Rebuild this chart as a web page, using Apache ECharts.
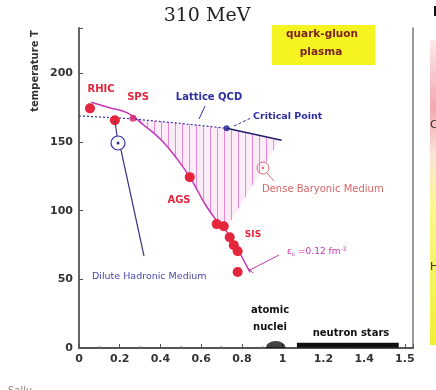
<!DOCTYPE html>
<html>
<head>
<meta charset="utf-8">
<script src="https://cdn.jsdelivr.net/npm/echarts@6/dist/echarts.min.js"></script>
<style>
  html, body { margin: 0; padding: 0; background: #fff; }
  #main { width: 436px; height: 390px; }
</style>
</head>
<body>
<div id="main"></div>
<script>
// tick labels as printed on the figure
const xTicks = ['0', '0.2', '0.4', '0.6', '0.8', '1', '1.2', '1.4', '1.5'];
const yTicks = ['0', '50', '100', '150', '200'];

// chemical freeze-out points (mu_B in GeV, T in MeV)
const expX = [0.054, 0.176, 0.544, 0.676, 0.711, 0.740, 0.760, 0.779, 0.779];
const expT = [174.5, 165.8, 124.4, 90.2, 88.7, 80.7, 74.9, 70.5, 55.3];
const spsX = [0.265];
const spsT = [167.3];

// freeze-out curve
const curveX = [0.06, 0.15, 0.24, 0.32, 0.40, 0.48, 0.55, 0.62, 0.68, 0.74, 0.79, 0.84];
const curveT = [179, 175, 171, 162, 152, 138, 123, 104.5, 92, 82, 69, 55];

// lattice QCD crossover (dotted) and first-order line past critical point
const latticeX = [0, 0.25, 0.5, 0.725];
const latticeT = [169, 167, 163.5, 160];
const critLineX = [0.725, 0.995];
const critLineT = [160, 151.3];
const critPointX = [0.725];
const critPointT = [160];

// hatched mixed-phase region (closed outline)
const regionX = [0.27, 0.5, 0.725, 0.985, 0.72, 0.68, 0.62, 0.55, 0.48, 0.40, 0.32, 0.27];
const regionT = [167, 163.5, 160, 151.5, 86, 92, 104.5, 123, 138, 152, 162, 167];

// atomic nuclei and neutron stars at T ~ 0
const nucleiX = [0.966];
const nucleiT = [2.6];
const starsX = [1.07, 1.57];
const starsT = [2, 2];

const chart = echarts.init(document.getElementById('main'));

// vertical hatch pattern
const hatch = document.createElement('canvas');
hatch.width = 7;
hatch.height = 4;
const hctx = hatch.getContext('2d');
hctx.fillStyle = '#fcecf8';
hctx.fillRect(0, 0, 7, 4);
hctx.fillStyle = '#e38ad9';
hctx.fillRect(0, 0, 1, 4);

const pair = (xs, ys) => xs.map((x, i) => [x, ys[i]]);
const FONT = 'DejaVu Sans';
const RED = '#e5253c';
const BLUE = '#2f2fa3';
const MAG = '#c236b4';

const txt = (text, x, y, size, color, opts = {}) => ({
  type: 'text', x, y, z: 100,
  rotation: opts.rotation || 0,
  style: {
    text, fill: color,
    font: `${opts.bold ? 'bold ' : ''}${size}px "${opts.family || FONT}"`,
    align: opts.align || 'center', verticalAlign: 'middle'
  }
});
const seg = (x1, y1, x2, y2, color, w = 1, dash) => ({
  type: 'line', z: 100,
  shape: { x1, y1, x2, y2 },
  style: { stroke: color, lineWidth: w, lineDash: dash || null }
});

const option = {
  animation: false,
  grid: { left: 79, right: 23, top: 28, bottom: 42 },
  xAxis: {
    type: 'value', min: 0, max: 1.64, interval: 0.2,
    axisLine: { lineStyle: { color: '#555', width: 1.8 } },
    axisTick: { inside: true, length: 4, lineStyle: { color: '#555' } },
    minorTick: { show: true, splitNumber: 2, length: 2, lineStyle: { color: '#888' } },
    splitLine: { show: false },
    axisLabel: {
      margin: 6, color: '#333', fontFamily: FONT, fontSize: 11, fontWeight: 'bold',
      formatter: v => {
        const i = Math.round(v / 0.2);
        return Math.abs(v - i * 0.2) < 1e-6 && i < xTicks.length ? xTicks[i] : '';
      }
    }
  },
  yAxis: [{
    type: 'value', min: 0, max: 233, interval: 50,
    axisLine: { show: true, lineStyle: { color: '#555', width: 1.8 } },
    axisTick: { show: true, inside: true, length: 4, lineStyle: { color: '#555' } },
    splitLine: { show: false },
    axisLabel: {
      margin: 6, color: '#333', fontFamily: FONT, fontSize: 11, fontWeight: 'bold',
      formatter: v => {
        const i = Math.round(v / 50);
        return Math.abs(v - i * 50) < 1e-6 && i < yTicks.length ? yTicks[i] : '';
      }
    }
  }, {
    type: 'value', min: 0, max: 233, position: 'right',
    axisLine: { show: true, lineStyle: { color: '#777', width: 1.5 } },
    axisTick: { show: false }, axisLabel: { show: false }, splitLine: { show: false }
  }],
  series: [
    {
      type: 'custom', z: 1,
      data: [[0, 0]],
      renderItem: (params, api) => ({
        type: 'polygon',
        shape: { points: pair(regionX, regionT).map(p => api.coord(p)) },
        style: { fill: { image: hatch, repeat: 'repeat' }, stroke: null }
      })
    },
    {
      type: 'line', z: 3, smooth: true, showSymbol: false,
      data: pair(curveX, curveT),
      lineStyle: { color: MAG, width: 1.5 }
    },
    {
      type: 'line', z: 3, showSymbol: false,
      data: pair(latticeX, latticeT),
      lineStyle: { color: BLUE, width: 1.2, type: [2, 2] }
    },
    {
      type: 'line', z: 3, showSymbol: false,
      data: pair(critLineX, critLineT),
      lineStyle: { color: '#1f1f66', width: 1.5 }
    },
    {
      type: 'scatter', z: 5, symbolSize: 6,
      data: pair(critPointX, critPointT),
      itemStyle: { color: '#1f1f8a' }
    },
    {
      type: 'scatter', z: 6, symbolSize: 10,
      data: pair(expX, expT),
      itemStyle: { color: RED, opacity: 1 }
    },
    {
      type: 'scatter', z: 6, symbolSize: 7,
      data: pair(spsX, spsT),
      itemStyle: { color: '#d42066' }
    },
    {
      type: 'scatter', z: 6,
      symbol: 'path://M0,10 A10,10 0 0 1 20,10 Z',
      symbolSize: [20, 7], symbolKeepAspect: false,
      data: pair(nucleiX, nucleiT),
      itemStyle: { color: '#111' }
    },
    {
      type: 'line', z: 6, showSymbol: false,
      data: pair(starsX, starsT),
      lineStyle: { color: '#111', width: 5 }
    }
  ],
  graphic: [
    txt('310 MeV', 207, 16, 19, '#222', { family: 'DejaVu Serif' }),
    { type: 'rect', z: 90, shape: { x: 272, y: 25, width: 103, height: 40 }, style: { fill: '#f5f420' } },
    txt('quark-gluon', 322, 34, 10.5, '#7a1f1f', { bold: true }),
    txt('plasma', 321, 52, 10.5, '#7a1f1f', { bold: true }),
    txt('temperature T', 35, 71, 10, '#333', { rotation: Math.PI / 2, bold: true }),
    txt('RHIC', 101, 89, 10, RED, { bold: true }),
    txt('SPS', 138, 97, 10, RED, { bold: true }),
    txt('AGS', 179, 200, 10, RED, { bold: true }),
    txt('SIS', 253, 235, 9, RED, { bold: true }),
    txt('Lattice QCD', 209, 97, 10, BLUE, { bold: true }),
    seg(205, 106, 199, 119, BLUE),
    txt('Critical Point', 253, 117, 9.5, BLUE, { bold: true, align: 'left' }),
    seg(234, 126, 251, 118, BLUE, 1, [3, 2]),
    { type: 'circle', z: 100, shape: { cx: 263, cy: 168, r: 6 }, style: { fill: 'none', stroke: '#d87070', lineWidth: 1 } },
    { type: 'circle', z: 100, shape: { cx: 263, cy: 168, r: 1.2 }, style: { fill: '#d87070' } },
    seg(267, 173, 274, 181, '#d87070'),
    txt('Dense Baryonic Medium', 262, 189, 10, '#d86565', { align: 'left' }),
    seg(115, 121, 117, 136, '#3a3a80', 1.2),
    { type: 'circle', z: 100, shape: { cx: 118, cy: 143, r: 7 }, style: { fill: '#fff', stroke: BLUE, lineWidth: 1.2 } },
    { type: 'circle', z: 101, shape: { cx: 118, cy: 143, r: 1.5 }, style: { fill: BLUE } },
    seg(121, 150, 144, 256, '#3a3a80', 1.2),
    txt('Dilute Hadronic Medium', 92, 277, 9.5, '#4848b0', { align: 'left' }),
    seg(250, 270, 279, 255, MAG),
    seg(246, 266, 253, 273, MAG),
    {
      type: 'text', x: 287, y: 252, z: 100,
      style: {
        text: '{a|ε}{s|c}{a| =0.12 fm}{p|-3}', fill: MAG, verticalAlign: 'middle',
        rich: {
          a: { fontFamily: FONT, fontSize: 9, fill: MAG },
          s: { fontFamily: FONT, fontSize: 6, fill: MAG, padding: [5, 0, 0, 0] },
          p: { fontFamily: FONT, fontSize: 6, fill: MAG, padding: [0, 0, 5, 0] }
        }
      }
    },
    txt('atomic', 270, 310, 10, '#111', { bold: true }),
    txt('nuclei', 270, 327, 10, '#111', { bold: true }),
    txt('neutron stars', 351, 333, 10, '#111', { bold: true }),
    {
      type: 'rect', z: 90, shape: { x: 430, y: 40, width: 6, height: 305 },
      style: {
        fill: new echarts.graphic.LinearGradient(0, 0, 0, 1, [
          { offset: 0, color: '#fdeaec' },
          { offset: 0.22, color: '#f2a7b0' },
          { offset: 0.38, color: '#fbe3d6' },
          { offset: 0.55, color: '#f9f790' },
          { offset: 1, color: '#f1ef34' }
        ])
      }
    },
    txt('b', 433, 13, 12, '#111', { bold: true, align: 'left' }),
    txt('C', 430, 125, 11, '#333', { align: 'left' }),
    txt('H', 430, 267, 11, '#333', { align: 'left' }),
    txt('Sally', 8, 391, 10, '#888', { align: 'left' })
  ]
};

chart.setOption(option);
</script>
</body>
</html>
